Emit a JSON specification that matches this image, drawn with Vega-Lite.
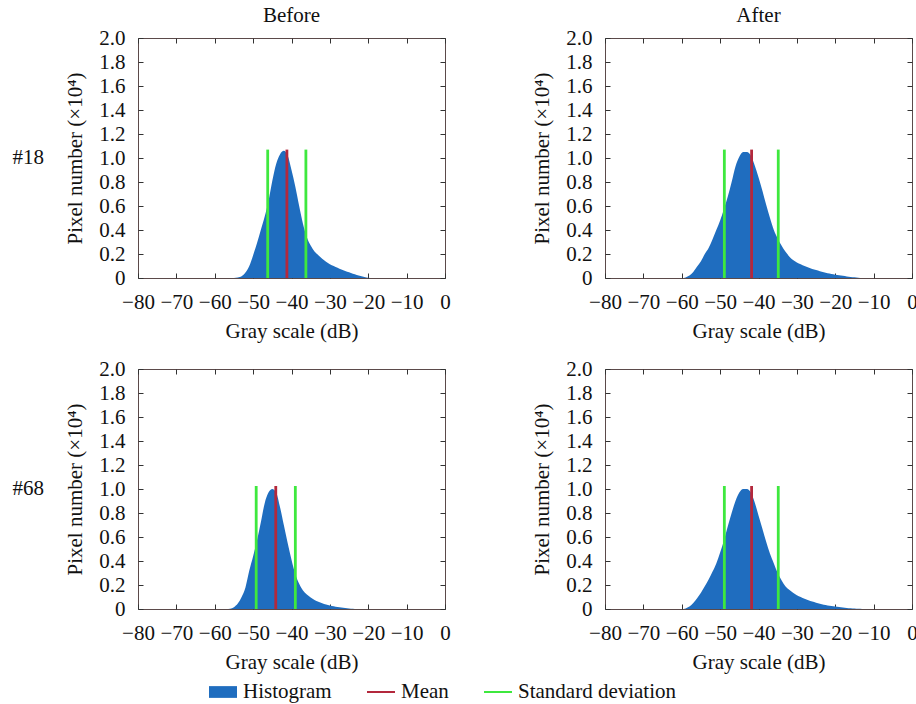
{
  "$schema": "https://vega.github.io/schema/vega-lite/v6.json",
  "background": "white",
  "padding": {"left": 12, "top": 5, "right": 4, "bottom": 4},
  "data": {"values": [
    {"row":"#18","col":"Before","series":"Histogram","x":-55,"y":0},
    {"row":"#18","col":"Before","series":"Histogram","x":-54,"y":0.005},
    {"row":"#18","col":"Before","series":"Histogram","x":-53,"y":0.015},
    {"row":"#18","col":"Before","series":"Histogram","x":-52,"y":0.045},
    {"row":"#18","col":"Before","series":"Histogram","x":-51,"y":0.1},
    {"row":"#18","col":"Before","series":"Histogram","x":-50,"y":0.19},
    {"row":"#18","col":"Before","series":"Histogram","x":-49,"y":0.29},
    {"row":"#18","col":"Before","series":"Histogram","x":-48,"y":0.4},
    {"row":"#18","col":"Before","series":"Histogram","x":-47,"y":0.51},
    {"row":"#18","col":"Before","series":"Histogram","x":-46,"y":0.64},
    {"row":"#18","col":"Before","series":"Histogram","x":-45,"y":0.81},
    {"row":"#18","col":"Before","series":"Histogram","x":-44,"y":0.95},
    {"row":"#18","col":"Before","series":"Histogram","x":-43,"y":1.03},
    {"row":"#18","col":"Before","series":"Histogram","x":-42,"y":1.06},
    {"row":"#18","col":"Before","series":"Histogram","x":-41,"y":1.02},
    {"row":"#18","col":"Before","series":"Histogram","x":-40,"y":0.9},
    {"row":"#18","col":"Before","series":"Histogram","x":-39,"y":0.76},
    {"row":"#18","col":"Before","series":"Histogram","x":-38,"y":0.6},
    {"row":"#18","col":"Before","series":"Histogram","x":-37,"y":0.45},
    {"row":"#18","col":"Before","series":"Histogram","x":-36,"y":0.34},
    {"row":"#18","col":"Before","series":"Histogram","x":-35,"y":0.27},
    {"row":"#18","col":"Before","series":"Histogram","x":-34,"y":0.22},
    {"row":"#18","col":"Before","series":"Histogram","x":-33,"y":0.19},
    {"row":"#18","col":"Before","series":"Histogram","x":-32,"y":0.16},
    {"row":"#18","col":"Before","series":"Histogram","x":-31,"y":0.135},
    {"row":"#18","col":"Before","series":"Histogram","x":-30,"y":0.115},
    {"row":"#18","col":"Before","series":"Histogram","x":-29,"y":0.1},
    {"row":"#18","col":"Before","series":"Histogram","x":-28,"y":0.085},
    {"row":"#18","col":"Before","series":"Histogram","x":-27,"y":0.07},
    {"row":"#18","col":"Before","series":"Histogram","x":-26,"y":0.058},
    {"row":"#18","col":"Before","series":"Histogram","x":-25,"y":0.047},
    {"row":"#18","col":"Before","series":"Histogram","x":-24,"y":0.036},
    {"row":"#18","col":"Before","series":"Histogram","x":-23,"y":0.026},
    {"row":"#18","col":"Before","series":"Histogram","x":-22,"y":0.016},
    {"row":"#18","col":"Before","series":"Histogram","x":-21,"y":0.008},
    {"row":"#18","col":"Before","series":"Histogram","x":-20,"y":0.002},
    {"row":"#18","col":"Before","series":"Histogram","x":-19,"y":0},
    {"row":"#18","col":"Before","series":"Mean","x":-41.2,"top":1.07},
    {"row":"#18","col":"Before","series":"Standard deviation","x":-46.2,"top":1.07},
    {"row":"#18","col":"Before","series":"Standard deviation","x":-36.25,"top":1.07},

    {"row":"#18","col":"After","series":"Histogram","x":-60,"y":0},
    {"row":"#18","col":"After","series":"Histogram","x":-59,"y":0.005},
    {"row":"#18","col":"After","series":"Histogram","x":-58,"y":0.02},
    {"row":"#18","col":"After","series":"Histogram","x":-57,"y":0.05},
    {"row":"#18","col":"After","series":"Histogram","x":-56,"y":0.095},
    {"row":"#18","col":"After","series":"Histogram","x":-55,"y":0.14},
    {"row":"#18","col":"After","series":"Histogram","x":-54,"y":0.2},
    {"row":"#18","col":"After","series":"Histogram","x":-53,"y":0.25},
    {"row":"#18","col":"After","series":"Histogram","x":-52,"y":0.32},
    {"row":"#18","col":"After","series":"Histogram","x":-51,"y":0.4},
    {"row":"#18","col":"After","series":"Histogram","x":-50,"y":0.48},
    {"row":"#18","col":"After","series":"Histogram","x":-49,"y":0.575},
    {"row":"#18","col":"After","series":"Histogram","x":-48,"y":0.68},
    {"row":"#18","col":"After","series":"Histogram","x":-47,"y":0.8},
    {"row":"#18","col":"After","series":"Histogram","x":-46,"y":0.93},
    {"row":"#18","col":"After","series":"Histogram","x":-45,"y":1.01},
    {"row":"#18","col":"After","series":"Histogram","x":-44,"y":1.05},
    {"row":"#18","col":"After","series":"Histogram","x":-43,"y":1.05},
    {"row":"#18","col":"After","series":"Histogram","x":-42,"y":1.02},
    {"row":"#18","col":"After","series":"Histogram","x":-41,"y":0.94},
    {"row":"#18","col":"After","series":"Histogram","x":-40,"y":0.84},
    {"row":"#18","col":"After","series":"Histogram","x":-39,"y":0.73},
    {"row":"#18","col":"After","series":"Histogram","x":-38,"y":0.61},
    {"row":"#18","col":"After","series":"Histogram","x":-37,"y":0.5},
    {"row":"#18","col":"After","series":"Histogram","x":-36,"y":0.4},
    {"row":"#18","col":"After","series":"Histogram","x":-35,"y":0.33},
    {"row":"#18","col":"After","series":"Histogram","x":-34,"y":0.27},
    {"row":"#18","col":"After","series":"Histogram","x":-33,"y":0.22},
    {"row":"#18","col":"After","series":"Histogram","x":-32,"y":0.18},
    {"row":"#18","col":"After","series":"Histogram","x":-31,"y":0.15},
    {"row":"#18","col":"After","series":"Histogram","x":-30,"y":0.13},
    {"row":"#18","col":"After","series":"Histogram","x":-29,"y":0.115},
    {"row":"#18","col":"After","series":"Histogram","x":-28,"y":0.1},
    {"row":"#18","col":"After","series":"Histogram","x":-27,"y":0.088},
    {"row":"#18","col":"After","series":"Histogram","x":-26,"y":0.076},
    {"row":"#18","col":"After","series":"Histogram","x":-25,"y":0.066},
    {"row":"#18","col":"After","series":"Histogram","x":-24,"y":0.056},
    {"row":"#18","col":"After","series":"Histogram","x":-23,"y":0.047},
    {"row":"#18","col":"After","series":"Histogram","x":-22,"y":0.04},
    {"row":"#18","col":"After","series":"Histogram","x":-21,"y":0.034},
    {"row":"#18","col":"After","series":"Histogram","x":-20,"y":0.028},
    {"row":"#18","col":"After","series":"Histogram","x":-19,"y":0.023},
    {"row":"#18","col":"After","series":"Histogram","x":-18,"y":0.018},
    {"row":"#18","col":"After","series":"Histogram","x":-17,"y":0.013},
    {"row":"#18","col":"After","series":"Histogram","x":-16,"y":0.009},
    {"row":"#18","col":"After","series":"Histogram","x":-15,"y":0.006},
    {"row":"#18","col":"After","series":"Histogram","x":-14,"y":0.003},
    {"row":"#18","col":"After","series":"Histogram","x":-13,"y":0.001},
    {"row":"#18","col":"After","series":"Histogram","x":-12,"y":0},
    {"row":"#18","col":"After","series":"Mean","x":-41.8,"top":1.07},
    {"row":"#18","col":"After","series":"Standard deviation","x":-48.9,"top":1.07},
    {"row":"#18","col":"After","series":"Standard deviation","x":-34.85,"top":1.07},

    {"row":"#68","col":"Before","series":"Histogram","x":-57,"y":0},
    {"row":"#68","col":"Before","series":"Histogram","x":-56,"y":0.003},
    {"row":"#68","col":"Before","series":"Histogram","x":-55,"y":0.015},
    {"row":"#68","col":"Before","series":"Histogram","x":-54,"y":0.045},
    {"row":"#68","col":"Before","series":"Histogram","x":-53,"y":0.1},
    {"row":"#68","col":"Before","series":"Histogram","x":-52,"y":0.18},
    {"row":"#68","col":"Before","series":"Histogram","x":-51,"y":0.32},
    {"row":"#68","col":"Before","series":"Histogram","x":-50,"y":0.44},
    {"row":"#68","col":"Before","series":"Histogram","x":-49,"y":0.57},
    {"row":"#68","col":"Before","series":"Histogram","x":-48,"y":0.72},
    {"row":"#68","col":"Before","series":"Histogram","x":-47,"y":0.88},
    {"row":"#68","col":"Before","series":"Histogram","x":-46,"y":0.97},
    {"row":"#68","col":"Before","series":"Histogram","x":-45,"y":1.0},
    {"row":"#68","col":"Before","series":"Histogram","x":-44,"y":0.97},
    {"row":"#68","col":"Before","series":"Histogram","x":-43,"y":0.85},
    {"row":"#68","col":"Before","series":"Histogram","x":-42,"y":0.7},
    {"row":"#68","col":"Before","series":"Histogram","x":-41,"y":0.55},
    {"row":"#68","col":"Before","series":"Histogram","x":-40,"y":0.41},
    {"row":"#68","col":"Before","series":"Histogram","x":-39,"y":0.29},
    {"row":"#68","col":"Before","series":"Histogram","x":-38,"y":0.21},
    {"row":"#68","col":"Before","series":"Histogram","x":-37,"y":0.155},
    {"row":"#68","col":"Before","series":"Histogram","x":-36,"y":0.12},
    {"row":"#68","col":"Before","series":"Histogram","x":-35,"y":0.095},
    {"row":"#68","col":"Before","series":"Histogram","x":-34,"y":0.075},
    {"row":"#68","col":"Before","series":"Histogram","x":-33,"y":0.06},
    {"row":"#68","col":"Before","series":"Histogram","x":-32,"y":0.048},
    {"row":"#68","col":"Before","series":"Histogram","x":-31,"y":0.038},
    {"row":"#68","col":"Before","series":"Histogram","x":-30,"y":0.03},
    {"row":"#68","col":"Before","series":"Histogram","x":-29,"y":0.023},
    {"row":"#68","col":"Before","series":"Histogram","x":-28,"y":0.017},
    {"row":"#68","col":"Before","series":"Histogram","x":-27,"y":0.012},
    {"row":"#68","col":"Before","series":"Histogram","x":-26,"y":0.008},
    {"row":"#68","col":"Before","series":"Histogram","x":-25,"y":0.005},
    {"row":"#68","col":"Before","series":"Histogram","x":-24,"y":0.002},
    {"row":"#68","col":"Before","series":"Histogram","x":-23,"y":0},
    {"row":"#68","col":"Before","series":"Mean","x":-44.1,"top":1.025},
    {"row":"#68","col":"Before","series":"Standard deviation","x":-49.2,"top":1.025},
    {"row":"#68","col":"Before","series":"Standard deviation","x":-39.0,"top":1.025},

    {"row":"#68","col":"After","series":"Histogram","x":-60,"y":0},
    {"row":"#68","col":"After","series":"Histogram","x":-59,"y":0.005},
    {"row":"#68","col":"After","series":"Histogram","x":-58,"y":0.02},
    {"row":"#68","col":"After","series":"Histogram","x":-57,"y":0.05},
    {"row":"#68","col":"After","series":"Histogram","x":-56,"y":0.09},
    {"row":"#68","col":"After","series":"Histogram","x":-55,"y":0.135},
    {"row":"#68","col":"After","series":"Histogram","x":-54,"y":0.19},
    {"row":"#68","col":"After","series":"Histogram","x":-53,"y":0.245},
    {"row":"#68","col":"After","series":"Histogram","x":-52,"y":0.31},
    {"row":"#68","col":"After","series":"Histogram","x":-51,"y":0.38},
    {"row":"#68","col":"After","series":"Histogram","x":-50,"y":0.47},
    {"row":"#68","col":"After","series":"Histogram","x":-49,"y":0.57},
    {"row":"#68","col":"After","series":"Histogram","x":-48,"y":0.69},
    {"row":"#68","col":"After","series":"Histogram","x":-47,"y":0.8},
    {"row":"#68","col":"After","series":"Histogram","x":-46,"y":0.9},
    {"row":"#68","col":"After","series":"Histogram","x":-45,"y":0.97},
    {"row":"#68","col":"After","series":"Histogram","x":-44,"y":1.0},
    {"row":"#68","col":"After","series":"Histogram","x":-43,"y":1.0},
    {"row":"#68","col":"After","series":"Histogram","x":-42,"y":0.97},
    {"row":"#68","col":"After","series":"Histogram","x":-41,"y":0.89},
    {"row":"#68","col":"After","series":"Histogram","x":-40,"y":0.78},
    {"row":"#68","col":"After","series":"Histogram","x":-39,"y":0.67},
    {"row":"#68","col":"After","series":"Histogram","x":-38,"y":0.56},
    {"row":"#68","col":"After","series":"Histogram","x":-37,"y":0.46},
    {"row":"#68","col":"After","series":"Histogram","x":-36,"y":0.38},
    {"row":"#68","col":"After","series":"Histogram","x":-35,"y":0.3},
    {"row":"#68","col":"After","series":"Histogram","x":-34,"y":0.24},
    {"row":"#68","col":"After","series":"Histogram","x":-33,"y":0.19},
    {"row":"#68","col":"After","series":"Histogram","x":-32,"y":0.16},
    {"row":"#68","col":"After","series":"Histogram","x":-31,"y":0.135},
    {"row":"#68","col":"After","series":"Histogram","x":-30,"y":0.115},
    {"row":"#68","col":"After","series":"Histogram","x":-29,"y":0.1},
    {"row":"#68","col":"After","series":"Histogram","x":-28,"y":0.085},
    {"row":"#68","col":"After","series":"Histogram","x":-27,"y":0.073},
    {"row":"#68","col":"After","series":"Histogram","x":-26,"y":0.062},
    {"row":"#68","col":"After","series":"Histogram","x":-25,"y":0.052},
    {"row":"#68","col":"After","series":"Histogram","x":-24,"y":0.043},
    {"row":"#68","col":"After","series":"Histogram","x":-23,"y":0.036},
    {"row":"#68","col":"After","series":"Histogram","x":-22,"y":0.03},
    {"row":"#68","col":"After","series":"Histogram","x":-21,"y":0.025},
    {"row":"#68","col":"After","series":"Histogram","x":-20,"y":0.02},
    {"row":"#68","col":"After","series":"Histogram","x":-19,"y":0.016},
    {"row":"#68","col":"After","series":"Histogram","x":-18,"y":0.012},
    {"row":"#68","col":"After","series":"Histogram","x":-17,"y":0.009},
    {"row":"#68","col":"After","series":"Histogram","x":-16,"y":0.006},
    {"row":"#68","col":"After","series":"Histogram","x":-15,"y":0.004},
    {"row":"#68","col":"After","series":"Histogram","x":-14,"y":0.002},
    {"row":"#68","col":"After","series":"Histogram","x":-13,"y":0.001},
    {"row":"#68","col":"After","series":"Histogram","x":-12,"y":0},
    {"row":"#68","col":"After","series":"Mean","x":-41.8,"top":1.025},
    {"row":"#68","col":"After","series":"Standard deviation","x":-48.9,"top":1.025},
    {"row":"#68","col":"After","series":"Standard deviation","x":-34.85,"top":1.025}
  ]},
  "facet": {
    "row": {"field": "row", "type": "nominal", "sort": ["#18", "#68"],
      "header": {"title": null, "labelAngle": 0, "labelOrient": "left", "labelAlign": "left", "labelFont": "Liberation Serif", "labelFontSize": 21, "labelColor": "#111", "labelPadding": 20}},
    "column": {"field": "col", "type": "nominal", "sort": ["Before", "After"],
      "header": {"title": null, "labelFont": "Liberation Serif", "labelFontSize": 21, "labelColor": "#111", "labelPadding": 0}}
  },
  "spacing": {"row": 15, "column": 80},
  "resolve": {"axis": {"x": "independent", "y": "independent"}},
  "spec": {
    "width": 307,
    "height": 240,
    "layer": [
      {
        "transform": [{"filter": "datum.series === 'Histogram'"}],
        "mark": {"type": "area", "interpolate": "monotone"},
        "encoding": {
          "x": {"field": "x", "type": "quantitative", "scale": {"domain": [-80, 0], "nice": false},
            "axis": {"orient": "bottom", "title": "Gray scale (dB)", "values": [-80, -70, -60, -50, -40, -30, -20, -10, 0], "format": "d", "titlePadding": 8}},
          "y": {"field": "y", "type": "quantitative", "scale": {"domain": [0, 2], "nice": false},
            "axis": {"orient": "left", "title": "Pixel number (×10⁴)", "values": [0, 0.2, 0.4, 0.6, 0.8, 1, 1.2, 1.4, 1.6, 1.8, 2], "labelExpr": "datum.value === 0 ? '0' : format(datum.value, '.1f')", "titlePadding": 13}},
          "color": {"field": "series", "type": "nominal",
            "scale": {"domain": ["Histogram", "Mean", "Standard deviation"], "range": ["#1f6dbf", "#b3283c", "#3ee83e"]},
            "legend": {"orient": "none", "legendX": 71, "legendY": 640, "direction": "horizontal", "title": null,
              "labelFont": "Liberation Serif", "labelFontSize": 21, "labelColor": "#111", "labelLimit": 400,
              "symbolSize": 784, "columnPadding": 35, "labelOffset": 6,
              "encode": {"symbols": {"update": {
                "shape": [{"test": "datum.value === 'Histogram'", "value": "M-1,-0.42H1V0.42H-1Z"}, {"value": "M-1,-0.07H1V0.07H-1Z"}],
                "fill": {"scale": "color", "field": "value"},
                "fillOpacity": {"value": 1},
                "strokeWidth": {"value": 0},
                "opacity": {"value": 1}
              }}}}}
        }
      },
      {
        "transform": [{"filter": "datum.series !== 'Histogram'"}],
        "mark": {"type": "rule", "strokeWidth": 2.8},
        "encoding": {
          "x": {"field": "x", "type": "quantitative",
            "axis": {"orient": "top", "title": null, "labels": false, "values": [-80, -70, -60, -50, -40, -30, -20, -10, 0]}},
          "y": {"field": "top", "type": "quantitative",
            "axis": {"orient": "right", "title": null, "labels": false, "values": [0, 0.2, 0.4, 0.6, 0.8, 1, 1.2, 1.4, 1.6, 1.8, 2]}},
          "y2": {"datum": 0},
          "color": {"field": "series", "type": "nominal"}
        }
      }
    ]
  },
  "config": {
    "view": {"stroke": "#5b4a4a", "strokeWidth": 1},
    "font": "Liberation Serif",
    "axis": {"labelFont": "Liberation Serif", "labelFontSize": 21, "labelColor": "#111",
      "titleFont": "Liberation Serif", "titleFontSize": 21, "titleFontWeight": "normal", "titleColor": "#111",
      "grid": false, "domain": false, "tickColor": "#333", "tickSize": -5, "labelPadding": 18,
      "labelFlush": false, "labelOverlap": false}
  }
}
